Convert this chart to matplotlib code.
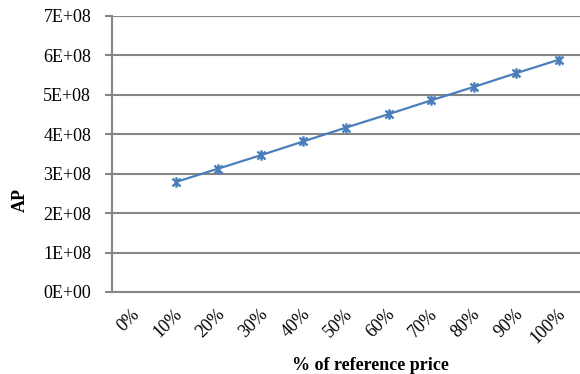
import numpy as np
import matplotlib
matplotlib.use("Agg")
import matplotlib.pyplot as plt
import matplotlib.transforms as mtransforms
from matplotlib.path import Path
from matplotlib.ticker import FuncFormatter

# AP against share of the reference price
pct_labels = ["0%", "10%", "20%", "30%", "40%", "50%", "60%", "70%", "80%", "90%", "100%"]
ap_values = [np.nan, 2.79e8, 3.13e8, 3.47e8, 3.82e8, 4.17e8, 4.51e8, 4.86e8, 5.20e8, 5.55e8, 5.89e8]
y_ticks = [0, 1e8, 2e8, 3e8, 4e8, 5e8, 6e8, 7e8]

plt.rcParams["font.family"] = ["Liberation Serif", "DejaVu Serif"]

line_col = "#4A7EBB"
grid_col = "#868686"

# asterisk-style marker: an x with a vertical bar through it
star = Path([(-1, -1), (1, 1), (-1, 1), (1, -1), (0, -1.3), (0, 1.3)],
            [Path.MOVETO, Path.LINETO, Path.MOVETO, Path.LINETO, Path.MOVETO, Path.LINETO])

fig = plt.figure(figsize=(5.8, 3.74), dpi=100)
ax = fig.add_axes([112 / 580, 1 - 292 / 374, (580 - 112) / 580, (292 - 16) / 374])

x = np.arange(len(pct_labels))
ax.plot(x, ap_values, color=line_col, lw=1.6, marker=star, ms=7.5,
        mec=line_col, mfc="none", mew=1.7, zorder=3)

ax.set_xlim(-0.5, len(pct_labels) - 0.5)
ax.set_ylim(0, 7e8)
ax.set_yticks(y_ticks)
ax.yaxis.set_major_formatter(FuncFormatter(lambda v, p: f"{int(round(v / 1e8))}E+{8 if v else 0:02d}"))
ax.grid(axis="y", color=grid_col, lw=1.5)
ax.set_axisbelow(True)

ax.set_xticks(x)
ax.set_xticklabels(pct_labels, rotation=45, ha="right", va="center",
                   rotation_mode="anchor", fontsize=13)
ax.tick_params(axis="x", length=0, pad=14)
ax.tick_params(axis="y", length=5, width=1.5, color=grid_col, labelsize=13, pad=10)

# nudge the slanted labels a little to the right
shift = mtransforms.ScaledTranslation(4 / 100, 0, fig.dpi_scale_trans)
for lbl in ax.get_xticklabels():
    lbl.set_transform(lbl.get_transform() + shift)

for side in ["top", "right"]:
    ax.spines[side].set_visible(False)
for side in ["left", "bottom"]:
    ax.spines[side].set_color(grid_col)
    ax.spines[side].set_linewidth(1.5)

fig.text(370 / 580, 1 - 365 / 374, "% of reference price", ha="center", va="center",
         fontsize=13, fontweight="bold")
fig.text(20 / 580, 1 - 200 / 374, "AP", ha="center", va="center", rotation=90,
         fontsize=13, fontweight="bold")

fig.savefig("out.png", dpi=100)
